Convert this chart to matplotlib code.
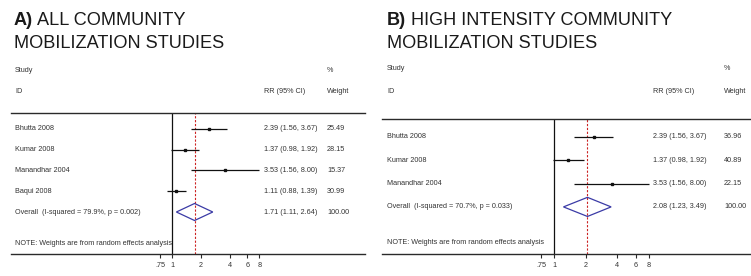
import numpy as np
import matplotlib
matplotlib.use("Agg")
import matplotlib.pyplot as plt
import matplotlib.transforms as mtrans
from matplotlib.patches import Polygon
from matplotlib.ticker import NullLocator, FixedLocator, FixedFormatter

plt.rcParams['font.family'] = ['Liberation Sans', 'DejaVu Sans']

# ---------------- data ----------------
studies_a = ['Bhutta 2008', 'Kumar 2008', 'Manandhar 2004', 'Baqui 2008']
rr_a = [2.39, 1.37, 3.53, 1.11]
lo_a = [1.56, 0.98, 1.56, 0.88]
hi_a = [3.67, 1.92, 8.00, 1.39]
weight_a = [25.49, 28.15, 15.37, 30.99]
overall_a = [1.71, 1.11, 2.64]
i2_a, p_a = 79.9, 0.002

studies_b = ['Bhutta 2008', 'Kumar 2008', 'Manandhar 2004']
rr_b = [2.39, 1.37, 3.53]
lo_b = [1.56, 0.98, 1.56]
hi_b = [3.67, 1.92, 8.00]
weight_b = [36.96, 40.89, 22.15]
overall_b = [2.08, 1.23, 3.49]
i2_b, p_b = 70.7, 0.033

tick_vals = [0.75, 1, 2, 4, 6, 8]
tick_labels = ['.75', '1', '2', '4', '6', '8']

# ---------------- layout ----------------
W, H = 751, 276
fig = plt.figure(figsize=(W / 100, H / 100), dpi=100)
TXT = '#333333'
LINE = '#2a2a2a'
FS = 5.2
TFS = 13.1


def fx(px):
    return px / W


def fy(py):
    return 1 - py / H


def panel(letter, t1, t2, g, studies, rr, lo, hi, wts, ov, i2, p):
    L, R, top, bottom = g['L'], g['R'], g['top'], g['bottom']
    x_one, ppl = g['x_one'], g['ppl']
    first, step = g['first'], g['step']
    ax = fig.add_axes([fx(L), fy(bottom), (R - L) / W, (bottom - top) / H])
    ax.set_xscale('log')
    ax.set_xlim(np.exp((L - x_one) / ppl), np.exp((R - x_one) / ppl))
    ax.set_ylim((bottom - first) / step, -(first - top) / step)
    ax.patch.set_alpha(0)
    for s in ['left', 'right']:
        ax.spines[s].set_visible(False)
    for s in ['top', 'bottom']:
        ax.spines[s].set_color(LINE)
        ax.spines[s].set_linewidth(1.0)
    ax.set_yticks([])
    ax.xaxis.set_major_locator(FixedLocator(tick_vals))
    ax.xaxis.set_major_formatter(FixedFormatter(tick_labels))
    ax.xaxis.set_minor_locator(NullLocator())
    ax.tick_params(axis='x', direction='out', length=3, width=0.8,
                   pad=2.5, labelsize=FS, colors=LINE, labelcolor=TXT)

    ax.axvline(1, color='#111111', lw=0.9, zorder=2)
    ax.axvline(ov[0], color='#cc2222', lw=0.8, ls=(0, (2, 1.5)), zorder=1)

    n = len(studies)
    ys = np.arange(n)
    for y, r, l, h in zip(ys, rr, lo, hi):
        ax.plot([l, h], [y, y], color='#111111', lw=0.9, solid_capstyle='butt', zorder=3)
        ax.plot([r], [y], marker='s', ms=1.8, color='#111111', zorder=4)
    yo = n
    dh = 0.41
    diamond = Polygon([[ov[1], yo], [ov[0], yo - dh], [ov[2], yo], [ov[0], yo + dh]],
                      closed=True, fill=False, edgecolor='#3b3ba6', lw=0.9, zorder=4)
    ax.add_patch(diamond)

    tr = mtrans.blended_transform_factory(fig.transFigure, ax.transData)
    for y, s, r, l, h, w in zip(ys, studies, rr, lo, hi, wts):
        ax.text(fx(g['xlab']), y, s, transform=tr, fontsize=FS, color=TXT, va='center', ha='left')
        ax.text(fx(g['xrr']), y, f'{r:.2f} ({l:.2f}, {h:.2f})', transform=tr,
                fontsize=FS, color=TXT, va='center', ha='left')
        ax.text(fx(g['xw']), y, f'{w:.2f}', transform=tr, fontsize=FS, color=TXT,
                va='center', ha='left')
    ax.text(fx(g['xlab']), yo, f'Overall  (I-squared = {i2:.1f}%, p = {p:.3f})',
            transform=tr, fontsize=FS, color=TXT, va='center', ha='left')
    ax.text(fx(g['xrr']), yo, f'{ov[0]:.2f} ({ov[1]:.2f}, {ov[2]:.2f})', transform=tr,
            fontsize=FS, color=TXT, va='center', ha='left')
    ax.text(fx(g['xw']), yo, f'{sum(wts):.2f}', transform=tr, fontsize=FS, color=TXT,
            va='center', ha='left')
    ax.text(fx(g['xlab']), yo + 1.54, 'NOTE: Weights are from random effects analysis',
            transform=tr, fontsize=FS, color=TXT, va='center', ha='left')

    # headers
    fig.text(fx(g['xlab']), fy(g['ystudy']), 'Study', fontsize=FS, color=TXT, va='center')
    fig.text(fx(g['xlab']), fy(92), 'ID', fontsize=FS, color=TXT, va='center')
    fig.text(fx(g['xrr']), fy(92), 'RR (95% CI)', fontsize=FS, color=TXT, va='center')
    fig.text(fx(g['xw']), fy(g['ystudy']), '%', fontsize=FS, color=TXT, va='center')
    fig.text(fx(g['xw']), fy(92), 'Weight', fontsize=FS, color=TXT, va='center')

    # title
    renderer = fig.canvas.get_renderer()
    ta = fig.text(fx(g['xt']), fy(25), letter, fontsize=TFS, fontweight='bold',
                  color='#1a1a1a', va='baseline')
    wpx = ta.get_window_extent(renderer).width
    fig.text(fx(g['xt'] + wpx), fy(25), ' ' + t1, fontsize=TFS, color='#1a1a1a', va='baseline')
    fig.text(fx(g['xt']), fy(48), t2, fontsize=TFS, color='#1a1a1a', va='baseline')
    return ax


geom_a = dict(L=11, R=365, top=113, bottom=254, x_one=172, ppl=42.0,
              first=129, step=20.75, xlab=15, xrr=264, xw=327, ystudy=71, xt=14)
geom_b = dict(L=382, R=751, top=119, bottom=254, x_one=554, ppl=45.7,
              first=137, step=23.3, xlab=387, xrr=653, xw=724, ystudy=69, xt=387)

panel('A)', 'ALL COMMUNITY', 'MOBILIZATION STUDIES', geom_a,
      studies_a, rr_a, lo_a, hi_a, weight_a, overall_a, i2_a, p_a)
panel('B)', 'HIGH INTENSITY COMMUNITY', 'MOBILIZATION STUDIES', geom_b,
      studies_b, rr_b, lo_b, hi_b, weight_b, overall_b, i2_b, p_b)

fig.savefig('out.png', dpi=100, facecolor='white')
